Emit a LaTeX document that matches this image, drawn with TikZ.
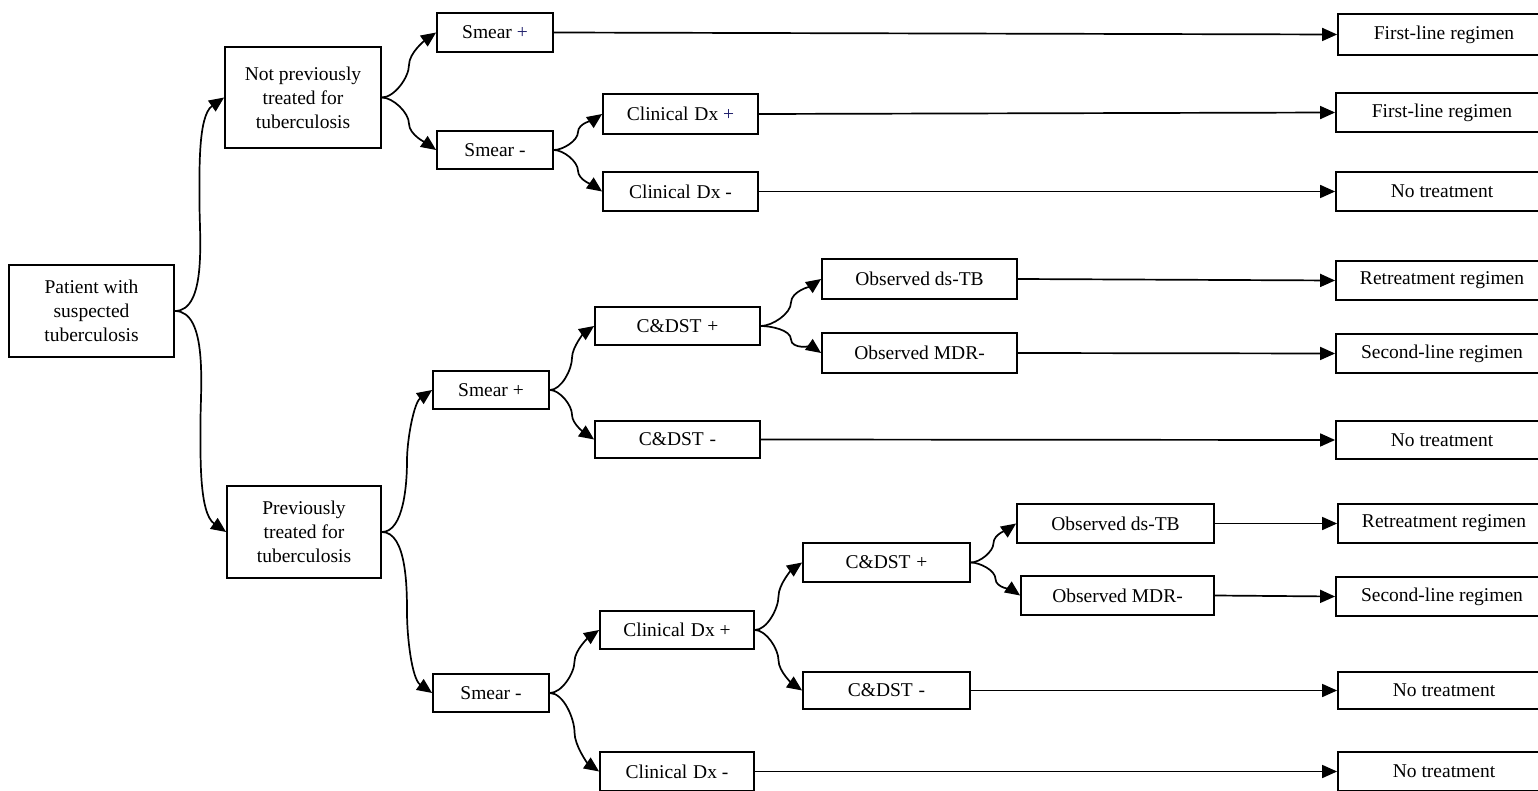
\documentclass[tikz,border=0pt]{standalone}
\usepackage{fontspec}
\setmainfont{Liberation Serif}
\usetikzlibrary{arrows.meta,calc}
\definecolor{navy}{rgb}{0.12,0.12,0.42}
\tikzset{
  box/.style={draw, line width=1.8pt, inner sep=0pt, align=center,
    font=\fontsize{19.5}{24}\selectfont, minimum height=39pt},
  endbox/.style={box, minimum width=212pt},
  br/.style={line width=1.7pt, -{Triangle[length=15pt,width=13pt]}},
}
\newcommand\brup[2]{\draw[br] (#1.east) to[out=0,in=270,looseness=0.75] ($(#1.east)!0.5!(#2.west)$) to[out=90,in=215,looseness=0.75] (#2.west);}
\newcommand\brdn[2]{\draw[br] (#1.east) to[out=0,in=90,looseness=0.75] ($(#1.east)!0.5!(#2.west)$) to[out=270,in=145,looseness=0.75] (#2.west);}
\newcommand\gap{\hspace{0.3em}}
\begin{document}
\begin{tikzpicture}[x=1pt,y=1pt]
\useasboundingbox (0,0) rectangle (1538,-791);
\clip (0,0) rectangle (1538,-791);
% left part
\node[box, minimum width=165pt, minimum height=92pt] (root) at (91.5,-311) {Patient with\\suspected\\tuberculosis};
\node[box, minimum width=156pt, minimum height=101pt] (np) at (303,-97.5) {Not previously\\treated for\\tuberculosis};
\node[box, minimum width=154pt, minimum height=92pt] (pv) at (304,-532) {Previously\\treated for\\tuberculosis};
% upper branch
\node[box, minimum width=116pt] (s1p) at (495,-32.5) {Smear {\color{navy}+}};
\node[box, minimum width=116pt, minimum height=38pt] (s1m) at (495,-150) {Smear -};
\node[box, minimum width=155pt, minimum height=40pt] (c1p) at (680.5,-114) {Clinical\gap Dx {\color{navy}+}};
\node[box, minimum width=155pt] (c1m) at (680.5,-191.5) {Clinical\gap Dx -};
% lower branch, smear +
\node[box, minimum width=116pt, minimum height=38pt] (s2p) at (491,-390) {Smear +};
\node[box, minimum width=165pt, minimum height=38pt] (d1p) at (677.5,-326) {C\&DST\gap +};
\node[box, minimum width=165pt, minimum height=37pt] (d1m) at (677.5,-439.5) {C\&DST\gap -};
\node[box, minimum width=195pt, minimum height=40pt] (o1) at (919.5,-279) {Observed ds-TB};
\node[box, minimum width=195pt, minimum height=40pt] (o2) at (919.5,-353) {Observed MDR-};
% lower branch, smear -
\node[box, minimum width=116pt, minimum height=38pt] (s2m) at (491,-693) {Smear -};
\node[box, minimum width=154pt, minimum height=38pt] (c2p) at (677,-630) {Clinical\gap Dx +};
\node[box, minimum width=154pt] (c2m) at (677,-771.5) {Clinical\gap Dx -};
\node[box, minimum width=167pt] (d2p) at (886.5,-562.5) {C\&DST\gap +};
\node[box, minimum width=167pt, minimum height=37pt] (d2m) at (886.5,-690.5) {C\&DST\gap -};
\node[box, minimum width=197pt] (o3) at (1115.5,-523.5) {Observed ds-TB};
\node[box, minimum width=193pt] (o4) at (1117.5,-595.5) {Observed MDR-};
% end boxes
\node[endbox, minimum height=41pt] (r1) at (1444,-34.5) {First-line regimen};
\node[endbox] (r2) at (1442,-112.5) {First-line regimen};
\node[endbox] (r3) at (1442,-191.5) {No treatment};
\node[endbox] (r4) at (1442,-280.5) {Retreatment regimen};
\node[endbox] (r5) at (1442,-353.5) {Second-line regimen};
\node[endbox, minimum height=38pt] (r6) at (1442,-440) {No treatment};
\node[endbox] (r7) at (1444,-523.5) {Retreatment regimen};
\node[endbox] (r8) at (1442,-596.5) {Second-line regimen};
\node[endbox, minimum height=37pt] (r9) at (1444,-690.5) {No treatment};
\node[endbox] (r10) at (1444,-771.5) {No treatment};
% curved branches
\brup{root}{np}
\brdn{root}{pv}
\brup{np}{s1p}
\brdn{np}{s1m}
\brup{s1m}{c1p}
\brdn{s1m}{c1m}
\brup{pv}{s2p}
\brdn{pv}{s2m}
\brup{s2p}{d1p}
\brdn{s2p}{d1m}
\brup{d1p}{o1}
\brdn{d1p}{o2}
\brup{s2m}{c2p}
\brdn{s2m}{c2m}
\brup{c2p}{d2p}
\brdn{c2p}{d2m}
\brup{d2p}{o3}
\brdn{d2p}{o4}
% straight connectors
\draw[br] (s1p.east) -- (r1.west);
\draw[br] (c1p.east) -- (r2.west);
\draw[br] (c1m.east) -- (r3.west);
\draw[br] (o1.east) -- (r4.west);
\draw[br] (o2.east) -- (r5.west);
\draw[br] (d1m.east) -- (r6.west);
\draw[br] (o3.east) -- (r7.west);
\draw[br] (o4.east) -- (r8.west);
\draw[br] (d2m.east) -- (r9.west);
\draw[br] (c2m.east) -- (r10.west);
\end{tikzpicture}
\end{document}
